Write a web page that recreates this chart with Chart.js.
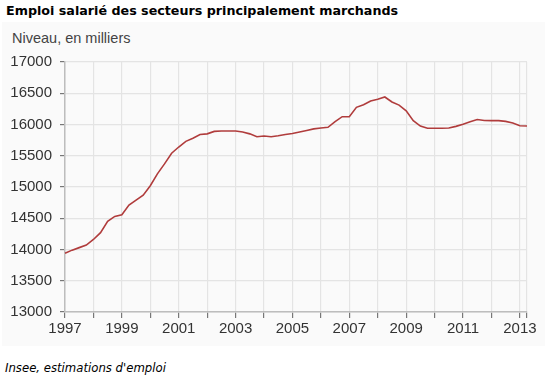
<!DOCTYPE html>
<html>
<head>
<meta charset="utf-8">
<script src="https://cdn.jsdelivr.net/npm/chart.js@4"></script>
<style>
  body { margin: 0; background: #fff; width: 545px; height: 389px; position: relative; overflow: hidden; }
  #title { position: absolute; left: 6px; top: 3px; font: bold 12.7px "DejaVu Sans", sans-serif; color: #000; white-space: nowrap; }
  #panel { position: absolute; left: 2px; top: 22px; width: 543px; height: 324px; background: #fafafa; }
  #unit { position: absolute; left: 12px; top: 30px; font: 14.5px "Liberation Sans", Arial, sans-serif; color: #444; }
  #chart { position: absolute; left: 0; top: 22px; }
  #source { position: absolute; left: 5px; top: 361px; font: italic 11.7px "DejaVu Sans", sans-serif; color: #000; white-space: nowrap; }
</style>
</head>
<body>
<div id="title">Emploi salarié des secteurs principalement marchands</div>
<div id="panel"></div>
<div id="unit">Niveau, en milliers</div>
<canvas id="chart" width="545" height="324"></canvas>
<div id="source">Insee, estimations d'emploi</div>
<script>
// quarters 1997 T1 .. 2013 T2
const years = [1997, 1998, 1999, 2000, 2001, 2002, 2003, 2004, 2005, 2006, 2007, 2008, 2009, 2010, 2011, 2012, 2013];
const quarters = [];
years.forEach(y => {
    ['T1', 'T2', 'T3', 'T4'].forEach(q => {
        if (y < 2013 || q === 'T1' || q === 'T2') quarters.push(y + ' ' + q);
    });
});

// emploi salarié, en milliers
const emploi = [
    13940, 13990, 14030, 14070,
    14160, 14270, 14450, 14530,
    14555, 14710, 14790, 14870,
    15020, 15210, 15370, 15540,
    15640, 15730, 15780, 15840,
    15850, 15890, 15895, 15895,
    15895, 15880, 15850, 15805,
    15815, 15805, 15820, 15840,
    15855, 15880, 15905, 15930,
    15945, 15955, 16045, 16125,
    16125, 16275, 16315, 16375,
    16405, 16440, 16360, 16310,
    16220, 16060, 15975, 15940,
    15940, 15940, 15945, 15970,
    16005, 16045, 16080, 16065,
    16062, 16062, 16050, 16025,
    15980, 15975
];

const yTicks = [13000, 13500, 14000, 14500, 15000, 15500, 16000, 16500, 17000];

const gridCol = '#e4e4e4';
const last = quarters.length - 1;

const ctx = document.getElementById('chart').getContext('2d');
const chart = new Chart(ctx, {
    type: 'line',
    data: {
        labels: quarters,
        datasets: [{
            data: emploi,
            borderColor: '#b03c3c',
            borderWidth: 1.6,
            pointRadius: 0,
            tension: 0,
            fill: false
        }]
    },
    options: {
        responsive: false,
        animation: false,
        devicePixelRatio: 1,
        layout: { padding: { top: 40, right: 18, left: 0, bottom: 0 } },
        plugins: { legend: { display: false }, tooltip: { enabled: false } },
        scales: {
            x: {
                grid: {
                    color: c => (c.index % 4 === 0 || c.index === last) ? gridCol : 'transparent',
                    tickColor: c => (c.index % 4 === 0 || c.index === last) ? '#777' : 'transparent',
                    tickLength: 6,
                    lineWidth: 1.2
                },
                border: { color: '#bdbdbd', width: 1.5 },
                ticks: {
                    autoSkip: false,
                    maxRotation: 0,
                    padding: 2,
                    color: '#333',
                    font: { family: '"Liberation Sans", Arial, sans-serif', size: 15 },
                    callback: (v, i) => {
                        const y = parseInt(quarters[i]);
                        return (i % 4 === 0 && y % 2 === 1) ? String(y) : '';
                    }
                },
                afterFit: s => { s.height = 34; }
            },
            y: {
                min: 13000,
                max: 17000,
                afterBuildTicks: s => { s.ticks = yTicks.map(v => ({ value: v })); },
                grid: { color: gridCol, tickColor: '#777', tickLength: 5, lineWidth: 1.2 },
                border: { color: '#bdbdbd', width: 1.5 },
                ticks: {
                    padding: 8,
                    color: '#333',
                    font: { family: '"Liberation Sans", Arial, sans-serif', size: 15 },
                    callback: v => String(v)
                },
                afterFit: s => { s.width = 65; }
            }
        }
    }
});
</script>
</body>
</html>
